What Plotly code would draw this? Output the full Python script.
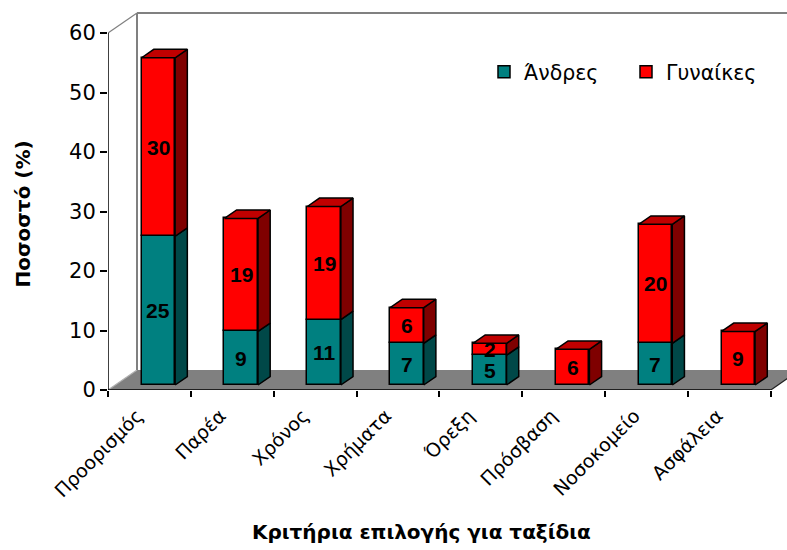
import plotly.graph_objects as go

# Survey data: share (%) of respondents naming each criterion, by sex
categories = ["Προορισμός", "Παρέα", "Χρόνος", "Χρήματα", "Όρεξη",
              "Πρόσβαση", "Νοσοκομείο", "Ασφάλεια"]
men = [25, 9, 11, 7, 5, 0, 7, 0]
women = [30, 19, 19, 6, 2, 6, 20, 9]
y_ticks = [0, 10, 20, 30, 40, 50, 60]
series_names = ["Άνδρες", "Γυναίκες"]

# Figure / plot-area geometry (pixels)
W, H = 787, 550
M_L, M_R, M_T, M_B = 108, 0, 12, 160
PLOT_W = W - M_L - M_R
PLOT_H = H - M_T - M_B
CAT_PX = 82.85          # width of one category on the front axis
UNIT_PX = 5.95          # pixels per percentage point

X_MAX = PLOT_W / CAT_PX
Y_MAX = PLOT_H / UNIT_PX
N = len(categories)
Y_TOP = max(y_ticks)

# Pseudo-3D depth vector (axis units) and bar placement inside the depth
DX, DY = 29 / CAT_PX, 20 / UNIT_PX
F0, F1 = 0.25, 0.67     # front and back of the bars as fraction of depth
BAR_W = 0.405
BAR_OFF = 0.318

TEAL, TEAL_SIDE = "#008080", "#004848"
RED, RED_SIDE, RED_TOP = "#FF0000", "#7F0000", "#C00000"
EDGE = "black"

fig = go.Figure()

front_left = [i + BAR_OFF + F0 * DX for i in range(N)]
centers = [x + BAR_W / 2 for x in front_left]
y0 = F0 * DY

men_base = [y0] * N
women_base = [y0 + m for m in men]

# Front faces
fig.add_trace(go.Bar(
    name=series_names[0],
    x=[c for c, m in zip(centers, men) if m > 0],
    y=[m for m in men if m > 0],
    base=[b for b, m in zip(men_base, men) if m > 0],
    width=BAR_W, marker=dict(color=TEAL, line=dict(color=EDGE, width=1.5)),
    hoverinfo="skip",
))
fig.add_trace(go.Bar(
    name=series_names[1],
    x=centers, y=women, base=women_base,
    width=BAR_W, marker=dict(color=RED, line=dict(color=EDGE, width=1.5)),
    hoverinfo="skip",
))

ddx = (F1 - F0) * DX
ddy = (F1 - F0) * DY


def side_poly(left, bottom, top):
    r = left + BAR_W
    return [r, r + ddx, r + ddx, r, r, None], [bottom, bottom + ddy, top + ddy, top, bottom, None]


def top_poly(left, top):
    r = left + BAR_W
    return [left, left + ddx, r + ddx, r, left, None], [top, top + ddy, top + ddy, top, top, None]


def add_polys(xs, ys, color):
    fig.add_trace(go.Scatter(
        x=xs, y=ys, mode="lines", fill="toself", fillcolor=color,
        line=dict(color=EDGE, width=1.5), showlegend=False, hoverinfo="skip",
    ))


# Side faces and top faces
for i in range(N):
    if men[i] > 0:
        sx, sy = side_poly(front_left[i], men_base[i], men_base[i] + men[i])
        add_polys(sx, sy, TEAL_SIDE)
    sx, sy = side_poly(front_left[i], women_base[i], women_base[i] + women[i])
    add_polys(sx, sy, RED_SIDE)
    tx, ty = top_poly(front_left[i], women_base[i] + women[i])
    add_polys(tx, ty, RED_TOP)

# Value labels centred on each segment
annotations = []
label_font = dict(family="Liberation Sans", size=21, color="black")
for i in range(N):
    if men[i] > 0:
        annotations.append(dict(x=centers[i], y=men_base[i] + men[i] / 2, text=f"<b>{men[i]}</b>",
                                showarrow=False, font=label_font, xref="x", yref="y"))
    annotations.append(dict(x=centers[i], y=women_base[i] + women[i] / 2, text=f"<b>{women[i]}</b>",
                            showarrow=False, font=label_font, xref="x", yref="y"))

# Axis titles
title_font = dict(family="DejaVu Sans", size=20, color="black")
annotations.append(dict(x=(421.5 - M_L) / PLOT_W, y=(M_T + PLOT_H - 532) / PLOT_H,
                        xref="paper", yref="paper", xanchor="center", yanchor="middle",
                        showarrow=False,
                        text="<b>Κριτήρια επιλογής για ταξίδια</b>", font=title_font))
annotations.append(dict(x=(22.5 - M_L) / PLOT_W, y=(M_T + PLOT_H - 214) / PLOT_H,
                        xref="paper", yref="paper", xanchor="center", yanchor="middle",
                        showarrow=False, textangle=-90,
                        text="<b>Ποσοστό (%)</b>", font=title_font))

# Floor, back walls and front axis lines
GRAY = "#808080"
shapes = [
    dict(type="path", xref="x", yref="y", layer="below",
         path=f"M 0,0 L {N},0 L {N + DX},{DY} L {DX},{DY} Z",
         fillcolor=GRAY, line=dict(width=0)),
    dict(type="line", xref="x", yref="y", layer="below", x0=N, y0=0, x1=N + DX, y1=DY,
         line=dict(color="#202020", width=1.2)),
    dict(type="line", xref="x", yref="y", layer="below", x0=0, y0=0, x1=DX, y1=DY,
         line=dict(color="#b0b0b0", width=1.2)),
    dict(type="line", xref="x", yref="y", layer="below", x0=DX, y0=DY, x1=DX, y1=Y_TOP + DY,
         line=dict(color=GRAY, width=2)),
    dict(type="line", xref="x", yref="y", layer="below", x0=DX, y0=Y_TOP + DY, x1=N + DX, y1=Y_TOP + DY,
         line=dict(color=GRAY, width=2)),
    dict(type="line", xref="x", yref="y", layer="below", x0=0, y0=Y_TOP, x1=DX, y1=Y_TOP + DY,
         line=dict(color=GRAY, width=1.2)),
    dict(type="line", xref="x", yref="y", x0=0, y0=0, x1=N, y1=0,
         line=dict(color="black", width=1.5)),
    dict(type="line", xref="x", yref="y", x0=0, y0=0, x1=0, y1=Y_TOP,
         line=dict(color="black", width=1.5)),
]

fig.update_layout(
    width=W, height=H,
    margin=dict(l=M_L, r=M_R, t=M_T, b=M_B, autoexpand=False),
    paper_bgcolor="white", plot_bgcolor="white",
    barmode="overlay", bargap=0,
    showlegend=True,
    legend=dict(orientation="h", x=(484 - M_L) / PLOT_W, y=(M_T + PLOT_H - 72) / PLOT_H,
                xanchor="left", yanchor="middle", bgcolor="rgba(0,0,0,0)",
                entrywidth=97, entrywidthmode="pixels",
                font=dict(family="DejaVu Sans", size=20.5, color="black")),
    shapes=shapes,
    annotations=annotations,
    xaxis=dict(range=[0, X_MAX], showgrid=False, zeroline=False, showline=False,
               tickmode="array", tickvals=[i + 0.5 for i in range(N)], ticktext=categories,
               tickangle=-45, ticks="", ticklabelstandoff=10, ticklabelshift=-12,
               tickfont=dict(family="DejaVu Sans", size=19, color="black"),
               minor=dict(tickmode="array", tickvals=list(range(N + 1)), ticks="outside",
                          ticklen=6, tickwidth=1.5, tickcolor="black"),
               fixedrange=True),
    yaxis=dict(range=[0, Y_MAX], showgrid=False, zeroline=False, showline=False,
               tickmode="array", tickvals=y_ticks, ticks="outside", ticklen=7,
               tickwidth=1.5, tickcolor="black",
               tickfont=dict(family="DejaVu Sans", size=21, color="black"),
               fixedrange=True),
)

fig.write_html("out.html")
